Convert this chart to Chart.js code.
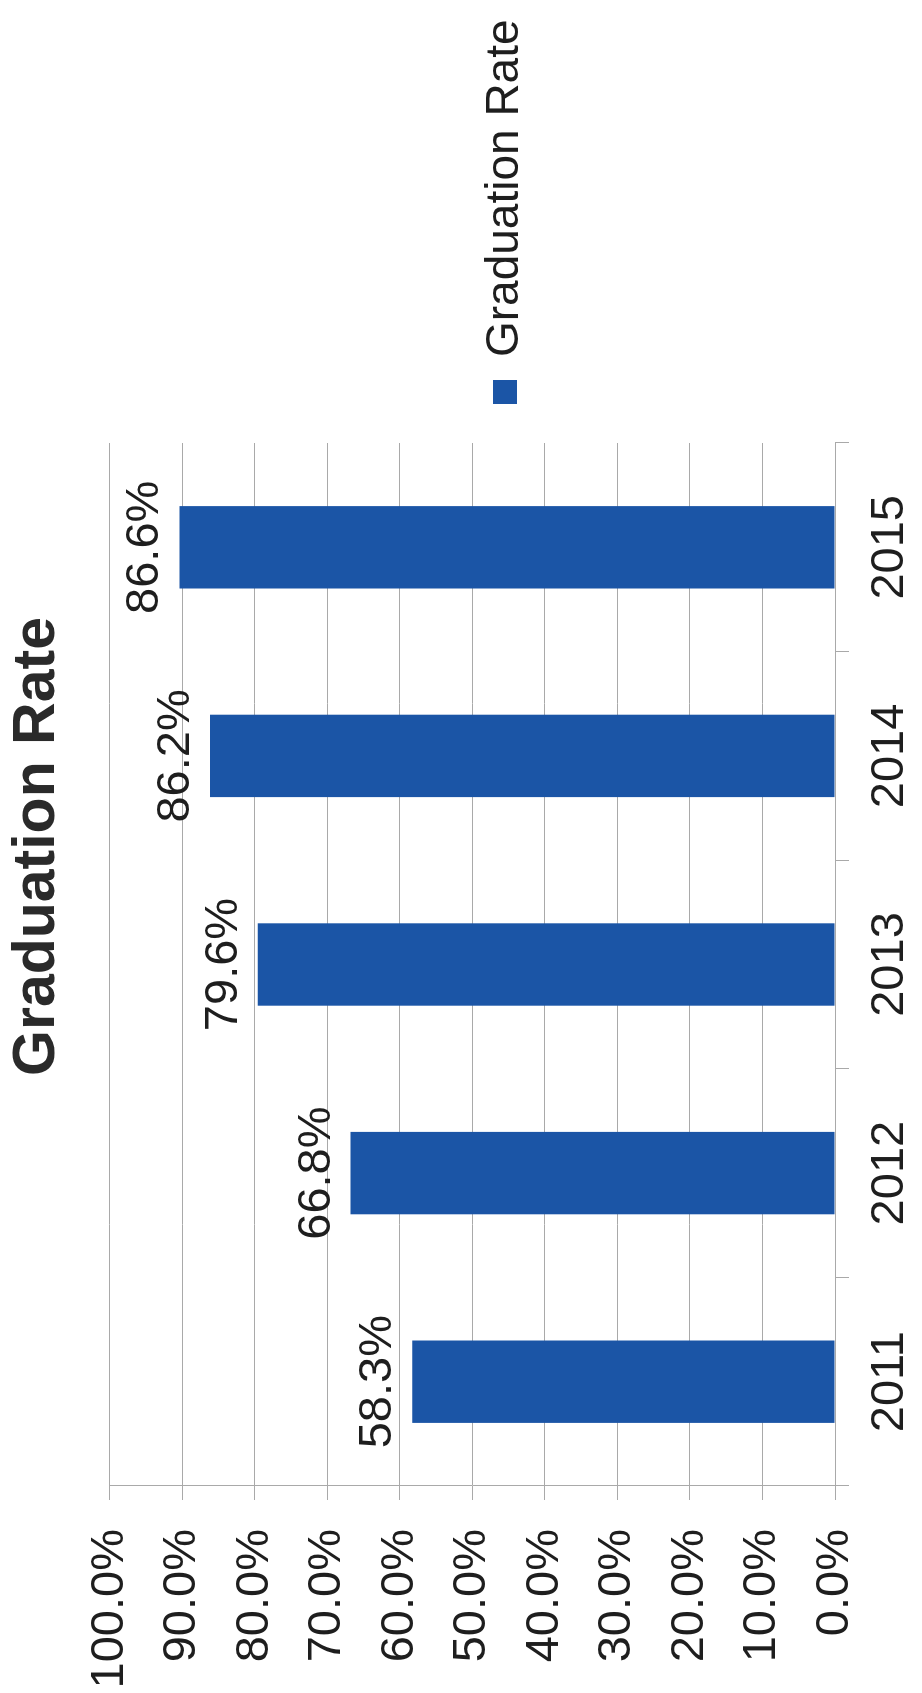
<!DOCTYPE html>
<html>
<head>
<meta charset="utf-8">
<title>Graduation Rate</title>
<script src="https://cdn.jsdelivr.net/npm/chart.js@4.4.1/dist/chart.umd.min.js"></script>
<style>
  html, body { margin: 0; padding: 0; background: #fff; }
  body { width: 922px; height: 1693px; overflow: hidden; position: relative; }
  /* the chart is drawn landscape and turned a quarter turn, like the scanned page */
  #wrap {
    position: absolute; left: 0; top: 0;
    width: 1693px; height: 922px;
    transform-origin: 0 0;
    transform: translate(0, 1693px) rotate(-90deg);
  }
</style>
</head>
<body>
<div id="wrap"><canvas id="chartCanvas" width="1693" height="922"></canvas></div>
<script>
const years = ['2011', '2012', '2013', '2014', '2015'];
// values printed over the bars
const rateLabels = [58.3, 66.8, 79.6, 86.2, 86.6];
// bar lengths as drawn in the picture (the 2015 bar runs past the 90% line)
const barRates = [58.3, 66.8, 79.6, 86.2, 90.4];
const axisMin = 0, axisMax = 100, axisStep = 10;

const BAR_COLOR = '#1b55a6';
const GRID_COLOR = '#a9a9a9';
const TEXT_COLOR = '#1e1e1e';
const FONT = '"Liberation Sans", Arial, sans-serif';

Chart.defaults.font.family = FONT;
Chart.defaults.color = TEXT_COLOR;

// writes the value above each bar
const barLabels = {
    id: 'barLabels',
    afterDatasetsDraw(chart) {
        const ctx = chart.ctx;
        const meta = chart.getDatasetMeta(0);
        ctx.save();
        ctx.font = '47px ' + FONT;
        ctx.fillStyle = TEXT_COLOR;
        ctx.textAlign = 'center';
        ctx.textBaseline = 'alphabetic';
        meta.data.forEach((bar, i) => {
            ctx.fillText(rateLabels[i].toFixed(1) + '%', bar.x, bar.y - 21);
        });
        ctx.restore();
    }
};

function createChart() {
    new Chart(document.getElementById('chartCanvas').getContext('2d'), {
        type: 'bar',
        data: {
            labels: years,
            datasets: [{
                label: 'Graduation Rate',
                data: barRates,
                backgroundColor: BAR_COLOR,
                borderWidth: 0,
                categoryPercentage: 1.0,
                barPercentage: 0.395
            }]
        },
        options: {
            responsive: false,
            animation: false,
            devicePixelRatio: 1,
            layout: { padding: 0 },
            plugins: {
                title: {
                    display: true,
                    text: 'Graduation Rate',
                    color: '#2a2a2a',
                    font: { size: 59, weight: 'bold' },
                    padding: { top: 2, bottom: 37 }
                },
                legend: {
                    position: 'right',
                    // empty title only pushes the single legend entry down a little
                    title: { display: true, text: ' ', font: { size: 10 }, padding: { top: 76, bottom: 0 } },
                    labels: {
                        boxWidth: 24,
                        boxHeight: 24,
                        padding: 39,
                        color: TEXT_COLOR,
                        font: { size: 46 }
                    }
                },
                tooltip: { enabled: false }
            },
            scales: {
                x: {
                    grid: {
                        display: true,
                        drawOnChartArea: false,
                        drawTicks: true,
                        tickLength: 14,
                        color: GRID_COLOR,
                        offset: true
                    },
                    border: { color: GRID_COLOR, width: 1 },
                    ticks: { padding: 13, font: { size: 47 }, color: TEXT_COLOR },
                    // leave 443px on the right for the legend
                    afterFit(scale) { scale.height = 87; scale.paddingRight = 443; }
                },
                y: {
                    min: axisMin,
                    max: axisMax,
                    ticks: {
                        stepSize: axisStep,
                        padding: 29,
                        font: { size: 47 },
                        color: TEXT_COLOR,
                        callback: (v) => v.toFixed(1) + '%'
                    },
                    grid: { color: GRID_COLOR, tickLength: 14, lineWidth: 1 },
                    border: { color: GRID_COLOR, width: 1 },
                    afterFit(scale) { scale.width = 207; }
                }
            }
        },
        plugins: [barLabels]
    });
}

createChart();
</script>
</body>
</html>
